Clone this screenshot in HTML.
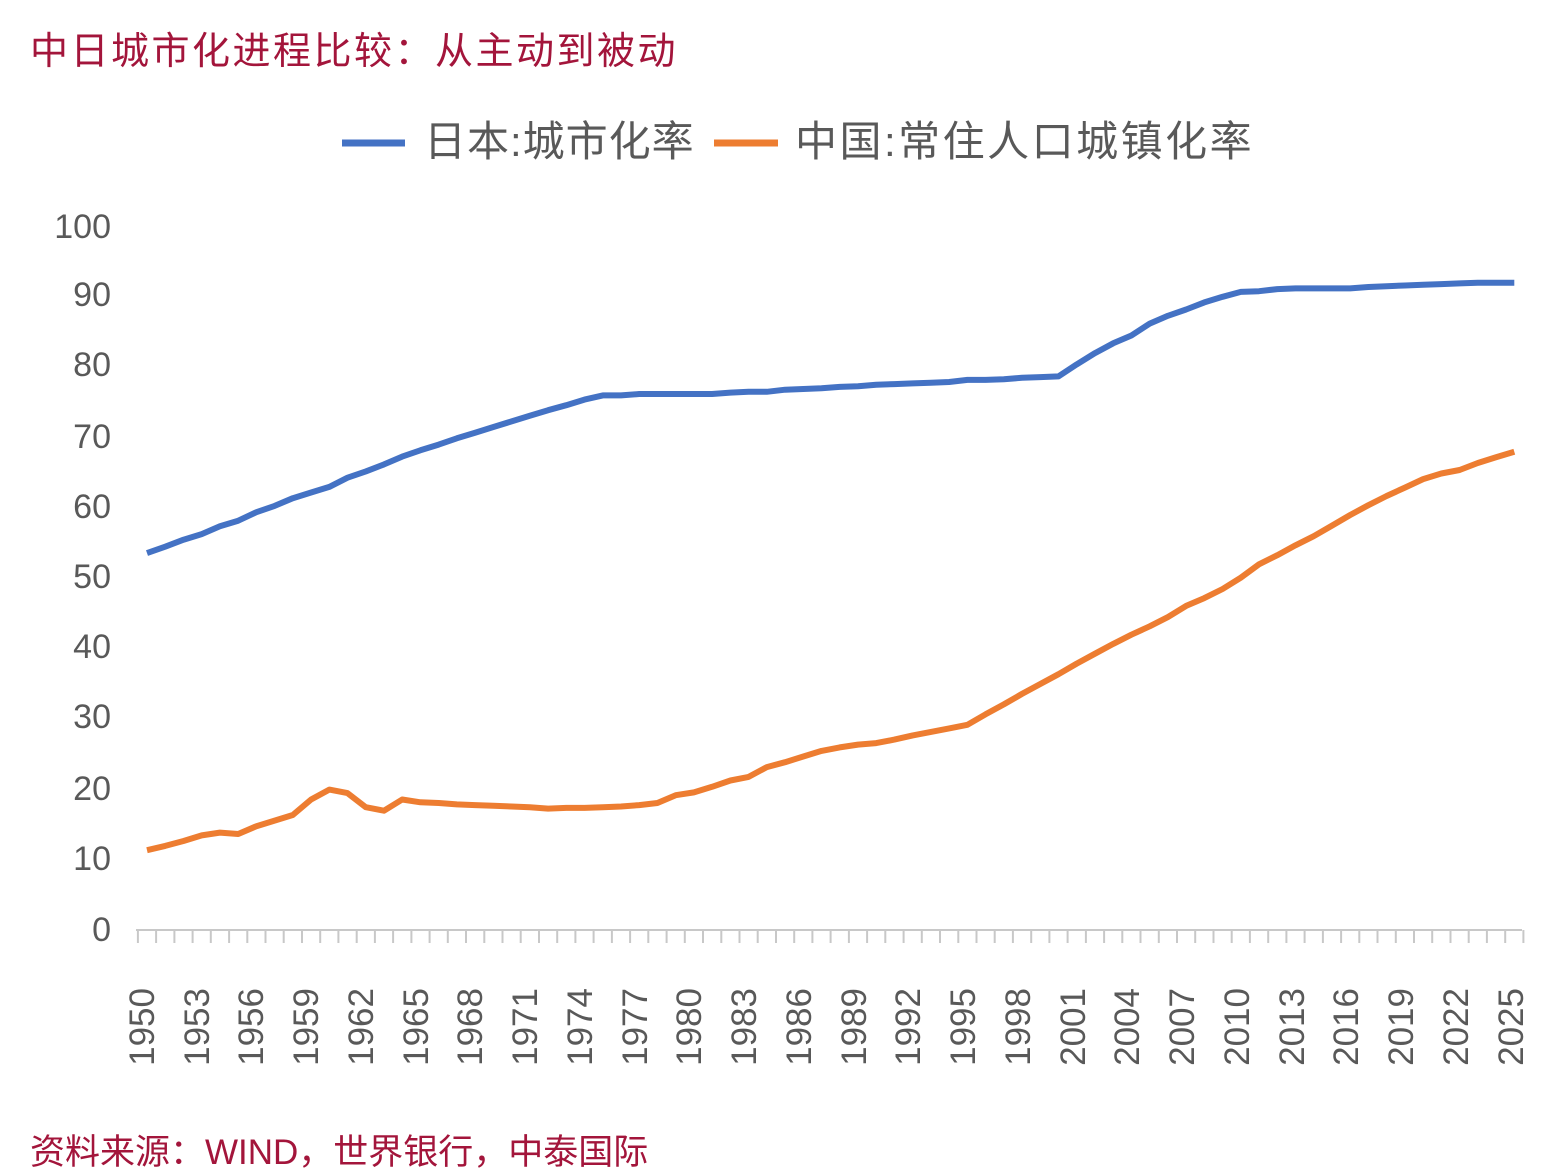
<!DOCTYPE html>
<html><head><meta charset="utf-8"><style>
html,body{margin:0;padding:0;background:#fff;}
body{width:1548px;height:1176px;overflow:hidden;position:relative;font-family:"Liberation Sans","Noto Sans CJK SC",sans-serif;}
.t{position:absolute;color:#a3153b;font-size:38px;white-space:nowrap;}
</style></head><body>
<div class="t" style="left:30px;top:20px;letter-spacing:2.5px;">中日城市化进程比较：从主动到被动</div>
<div class="t" style="left:30px;top:1124px;font-size:35px;">资料来源：WIND，世界银行，中泰国际</div>
<svg id="s" width="1548" height="1176" style="position:absolute;left:0;top:0" xmlns="http://www.w3.org/2000/svg" font-family="Liberation Sans, Noto Sans CJK SC, sans-serif">
<line x1="342" y1="143" x2="405" y2="143" stroke="#4472c4" stroke-width="7"/>
<text x="424" y="156" font-size="42" fill="#595959" letter-spacing="1">日本:城市化率</text>
<line x1="714" y1="143" x2="778" y2="143" stroke="#ed7d31" stroke-width="7"/>
<text x="795" y="156" font-size="42" fill="#595959" letter-spacing="2.5">中国:常住人口城镇化率</text>
<g font-size="34" fill="#595959" text-anchor="end">
<text x="111" y="238">100</text><text x="111" y="306">90</text><text x="111" y="376">80</text>
<text x="111" y="448">70</text><text x="111" y="518">60</text><text x="111" y="588">50</text>
<text x="111" y="658">40</text><text x="111" y="728">30</text><text x="111" y="800">20</text>
<text x="111" y="870">10</text><text x="111" y="941">0</text>
</g>
<line x1="136" y1="930" x2="1522" y2="930" stroke="#c8c8c8" stroke-width="2"/>
<g id="ticks" stroke="#c8c8c8" stroke-width="2"></g>
<g font-size="35" fill="#595959" text-anchor="end">
<text transform="translate(154,988) rotate(-90)">1950</text>
<text transform="translate(209,988) rotate(-90)">1953</text>
<text transform="translate(263,988) rotate(-90)">1956</text>
<text transform="translate(318,988) rotate(-90)">1959</text>
<text transform="translate(373,988) rotate(-90)">1962</text>
<text transform="translate(428,988) rotate(-90)">1965</text>
<text transform="translate(482,988) rotate(-90)">1968</text>
<text transform="translate(537,988) rotate(-90)">1971</text>
<text transform="translate(592,988) rotate(-90)">1974</text>
<text transform="translate(647,988) rotate(-90)">1977</text>
<text transform="translate(701,988) rotate(-90)">1980</text>
<text transform="translate(756,988) rotate(-90)">1983</text>
<text transform="translate(811,988) rotate(-90)">1986</text>
<text transform="translate(866,988) rotate(-90)">1989</text>
<text transform="translate(920,988) rotate(-90)">1992</text>
<text transform="translate(975,988) rotate(-90)">1995</text>
<text transform="translate(1030,988) rotate(-90)">1998</text>
<text transform="translate(1085,988) rotate(-90)">2001</text>
<text transform="translate(1139,988) rotate(-90)">2004</text>
<text transform="translate(1194,988) rotate(-90)">2007</text>
<text transform="translate(1249,988) rotate(-90)">2010</text>
<text transform="translate(1304,988) rotate(-90)">2013</text>
<text transform="translate(1358,988) rotate(-90)">2016</text>
<text transform="translate(1413,988) rotate(-90)">2019</text>
<text transform="translate(1468,988) rotate(-90)">2022</text>
<text transform="translate(1523,988) rotate(-90)">2025</text>
</g>
<polyline id="jp" fill="none" stroke="#4472c4" stroke-width="6" stroke-linejoin="round"/>
<polyline id="cn" fill="none" stroke="#ed7d31" stroke-width="6" stroke-linejoin="round"/>
</svg>
<script>
var jp=[53.4,54.3,55.3,56.1,57.2,58.0,59.2,60.1,61.2,62.0,62.8,64.1,65.0,66.0,67.1,68.0,68.8,69.7,70.5,71.3,72.1,72.9,73.7,74.4,75.2,75.8,75.8,76.0,76.0,76.0,76.0,76.0,76.2,76.3,76.3,76.6,76.7,76.8,77.0,77.1,77.3,77.4,77.5,77.6,77.7,78.0,78.0,78.1,78.3,78.4,78.5,80.2,81.8,83.2,84.3,86.0,87.1,88.0,89.0,89.8,90.5,90.6,90.9,91.0,91.0,91.0,91.0,91.2,91.3,91.4,91.5,91.6,91.7,91.8,91.8,91.8];
var cn=[11.2,11.8,12.5,13.3,13.7,13.5,14.6,15.4,16.2,18.4,19.8,19.3,17.3,16.8,18.4,18.0,17.9,17.7,17.6,17.5,17.4,17.3,17.1,17.2,17.2,17.3,17.4,17.6,17.9,19.0,19.4,20.2,21.1,21.6,23.0,23.7,24.5,25.3,25.8,26.2,26.4,26.9,27.5,28.0,28.5,29.0,30.5,31.9,33.4,34.8,36.2,37.7,39.1,40.5,41.8,43.0,44.3,45.9,47.0,48.3,49.9,51.8,53.1,54.5,55.8,57.3,58.8,60.2,61.5,62.7,63.9,64.7,65.2,66.2,67.0,67.8];
function X(i){return 147+i*18.23;}function Y(v){return 929-v*7.04;}
function pts(a){return a.map(function(v,i){return X(i).toFixed(1)+","+Y(v).toFixed(1)}).join(" ");}
document.getElementById("jp").setAttribute("points",pts(jp));
document.getElementById("cn").setAttribute("points",pts(cn));
var g=document.getElementById("ticks"),h="";
for(var k=0;k<=76;k++){var x=(137.9+k*18.23).toFixed(1);h+='<line x1="'+x+'" y1="930" x2="'+x+'" y2="943"/>';}
g.innerHTML=h;
</script>
</body></html>
